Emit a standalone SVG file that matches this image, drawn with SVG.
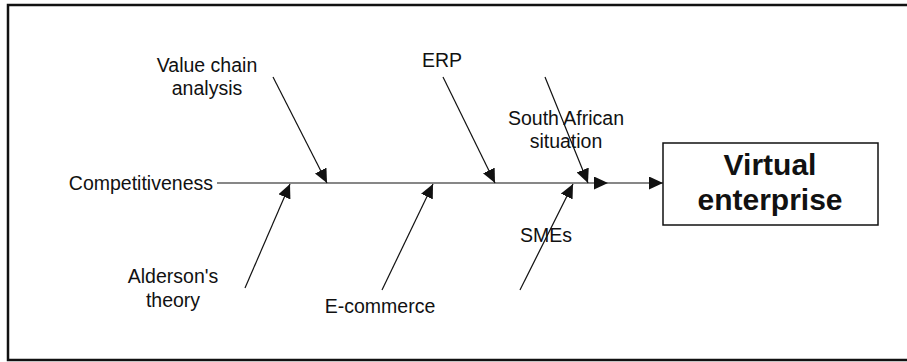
<svg xmlns="http://www.w3.org/2000/svg" width="907" height="362" viewBox="0 0 907 362">
  <style>
    .lbl { font-family: "Liberation Sans", Arial, sans-serif; font-size: 19.5px; fill: #111; text-anchor: middle; }
    .big { font-family: "Liberation Sans", Arial, sans-serif; font-size: 30px; font-weight: bold; fill: #111; text-anchor: middle; }
    .conn { stroke: #111; stroke-width: 1.2; fill: none; marker-end: url(#ah); }
    .frame { stroke: #111; stroke-width: 2.5; fill: none; }
  </style>
  <defs>
    <marker id="ah" markerUnits="userSpaceOnUse" markerWidth="15" markerHeight="13" refX="14" refY="6.5" orient="auto">
      <path d="M0,0 L14,6.5 L0,13 Z" fill="#111"/>
    </marker>
  </defs>
  <rect width="907" height="362" fill="#fff"/>
  <path class="frame" d="M907,5 L8,5 L8,360 L907,360"/>

  <g id="connectors">
    <line class="conn" x1="217" y1="183" x2="608" y2="183"/>
    <line class="conn" x1="608" y1="183" x2="663" y2="183"/>
    <line class="conn" x1="273" y1="77" x2="327" y2="183"/>
    <line class="conn" x1="443" y1="77" x2="495" y2="183"/>
    <line class="conn" x1="545" y1="77" x2="588" y2="183"/>
    <line class="conn" x1="245" y1="288" x2="290" y2="184"/>
    <line class="conn" x1="382" y1="290" x2="433" y2="184"/>
    <line class="conn" x1="520" y1="290" x2="573" y2="184"/>
  </g>

  <g id="competitiveness">
    <text class="lbl" x="213" y="190" style="text-anchor:end">Competitiveness</text>
  </g>
  <g id="value-chain">
    <text class="lbl" x="207" y="72">Value chain</text>
    <text class="lbl" x="207" y="95">analysis</text>
  </g>
  <g id="erp">
    <text class="lbl" x="442" y="67">ERP</text>
  </g>
  <g id="south-african">
    <text class="lbl" x="566" y="125">South African</text>
    <text class="lbl" x="566" y="148">situation</text>
  </g>
  <g id="aldersons">
    <text class="lbl" x="173" y="283">Alderson's</text>
    <text class="lbl" x="173" y="307">theory</text>
  </g>
  <g id="e-commerce">
    <text class="lbl" x="380" y="313">E-commerce</text>
  </g>
  <g id="smes">
    <text class="lbl" x="546" y="242">SMEs</text>
  </g>
  <g id="virtual-enterprise">
    <rect x="663" y="143" width="215" height="82" fill="#fff" stroke="#111" stroke-width="1.5"/>
    <text class="big" x="770" y="175">Virtual</text>
    <text class="big" x="770" y="210">enterprise</text>
  </g>
</svg>
